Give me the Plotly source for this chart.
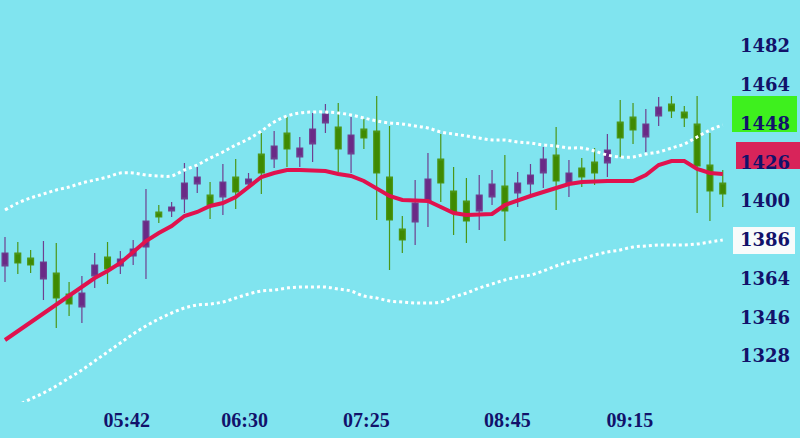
import numpy as np
import plotly.graph_objects as go

# ---- data ----
OPEN = [1379.5, 1374.5, 1373.5, 1375, 1357, 1354, 1359.5, 1373.5, 1371.5, 1376.5,
        1381.5, 1395.5, 1397.5, 1402.5, 1414.5, 1417.5, 1403.5, 1415, 1410, 1416.5,
        1419.5, 1433, 1431.5, 1432, 1441.5, 1449, 1431.5, 1438.5, 1437, 1419.5,
        1396, 1386, 1404.5, 1416.5, 1414.5, 1400, 1395.5, 1408.5, 1414, 1400.5,
        1414.5, 1418.5, 1426.5, 1415.5, 1419.5, 1417.5, 1419.5, 1431, 1437, 1441,
        1444, 1452.5, 1450.5, 1447, 1423, 1410.5, 1409]
CLOSE = [1373, 1379.5, 1377, 1366.5, 1369.5, 1359, 1352.5, 1368, 1377.5, 1373,
         1378, 1382.5, 1400, 1400.5, 1406.5, 1414, 1408.5, 1407.5, 1417.5, 1414,
         1429, 1426.5, 1439.5, 1427.5, 1434, 1444.5, 1442.5, 1429, 1441.5, 1440.5,
         1417.5, 1391.5, 1395, 1405.5, 1426.5, 1410.5, 1405.5, 1400.5, 1407.5, 1413,
         1409.5, 1414, 1419.5, 1428.5, 1414.5, 1422, 1425, 1424.5, 1445, 1447.5,
         1437.5, 1448, 1454, 1450, 1444, 1423.5, 1414.5]
HIGH = [1387.5, 1385, 1381, 1385.5, 1384.5, 1365, 1368, 1379.5, 1385, 1380.5,
        1386, 1411.5, 1403.5, 1405, 1424.5, 1422.5, 1415, 1424, 1426.5, 1419.5,
        1439.5, 1440.5, 1447.5, 1437.5, 1449.5, 1454, 1454.5, 1447.5, 1446.5, 1458,
        1443, 1398, 1416, 1429.5, 1439, 1422.5, 1417, 1418.5, 1421, 1428.5,
        1420, 1424, 1432.5, 1442.5, 1426, 1427, 1432, 1439, 1456, 1454.5,
        1451.5, 1457.5, 1458, 1453, 1458, 1439.5, 1421]
LOW = [1365, 1369, 1369.5, 1356, 1342, 1348, 1344.5, 1362, 1364, 1369,
       1373.5, 1366.5, 1394.5, 1397.5, 1399.5, 1409.5, 1396.5, 1398.5, 1401.5, 1413.5,
       1409, 1422, 1422.5, 1422.5, 1425, 1439.5, 1420, 1419.5, 1431.5, 1396,
       1371, 1379.5, 1383.5, 1392.5, 1405, 1388.5, 1384.5, 1391, 1403.5, 1385.5,
       1402.5, 1409, 1412, 1401, 1407.5, 1412.5, 1413.5, 1417.5, 1427.5, 1434,
       1430, 1443, 1447, 1442.5, 1399.5, 1395.5, 1402.5]
MA = [1336, 1340.5, 1345, 1349, 1354, 1358, 1362.5, 1367, 1370.5, 1374.5,
      1380, 1385.5, 1389.5, 1393, 1398, 1400, 1403, 1404.5, 1407.5, 1412.5,
      1417.5, 1419.5, 1421, 1421, 1420.5, 1420.5, 1419, 1418, 1415.5, 1411.5,
      1408, 1406, 1406, 1405.5, 1402.5, 1399.5, 1398.5, 1398.5, 1399, 1403.5,
      1406, 1408, 1410, 1412, 1414, 1415, 1415.5, 1415.5, 1415.5, 1415.5,
      1418.5, 1423.5, 1425.5, 1425.5, 1421.5, 1419.5, 1419]
UPPER = [1401, 1404.5, 1407, 1409, 1411, 1412.5, 1414.5, 1416, 1417.5, 1419.5,
         1419.5, 1418.5, 1418, 1418, 1421, 1423.5, 1427, 1430, 1433.5, 1436.5,
         1440.5, 1445, 1448, 1449.5, 1450, 1450, 1449.5, 1448.5, 1447, 1445.5,
         1444.5, 1444, 1443, 1442, 1440, 1439, 1438, 1437, 1436, 1436,
         1435, 1434.5, 1433.5, 1433, 1432, 1432, 1430.5, 1428.5, 1427.5, 1427.5,
         1429, 1430, 1432, 1434, 1437.5, 1441, 1443.5]
LOWER = [1301, 1303.5, 1306.5, 1309.5, 1313, 1317, 1321, 1325.5, 1330, 1334.5,
         1339, 1343, 1346.5, 1349.5, 1352, 1353.5, 1354, 1355, 1357, 1359,
         1360.5, 1361, 1362, 1362.5, 1362.5, 1362.5, 1361.5, 1360.5, 1358, 1357,
         1355.5, 1355, 1354.5, 1354.5, 1355, 1357.5, 1359.5, 1362, 1364, 1366,
         1367.5, 1368.5, 1370.5, 1373, 1375, 1376.5, 1378.5, 1380, 1381, 1382.5,
         1383, 1383.5, 1383.5, 1383.5, 1384, 1385, 1386]

X_TICK_TEXT = ["05:42", "06:30", "07:25", "08:45", "09:15"]
X_TICK_POS = [9.5, 18.7, 28.2, 39.2, 48.75]
Y_TICK_TEXT = ["1328", "1346", "1364", "1386", "1400", "1426", "1448", "1464", "1482"]
Y_TICK_VALS = list(np.linspace(1328, 1483, len(Y_TICK_TEXT)))

x = list(range(len(OPEN)))

BG = "#80e4ef"
NAVY = "#12126a"

fig = go.Figure()
fig.add_trace(go.Candlestick(
    x=x, open=OPEN, high=HIGH, low=LOW, close=CLOSE,
    increasing=dict(line=dict(color="#4c9618", width=1.2), fillcolor="#3f8a02"),
    decreasing=dict(line=dict(color="#6e4090", width=1.2), fillcolor="#6a2a86"),
    showlegend=False, hoverinfo="skip",
))
for band in (UPPER, LOWER):
    fig.add_trace(go.Scatter(
        x=x, y=band, mode="lines",
        line=dict(color="white", width=3, dash="3px,3px", shape="spline"),
        showlegend=False, hoverinfo="skip",
    ))
fig.add_trace(go.Scatter(
    x=x, y=MA, mode="lines",
    line=dict(color="#e0124e", width=4),
    showlegend=False, hoverinfo="skip",
))

# highlighted value boxes behind the right-hand labels
PLOT_W = 733.0
boxes = [
    (732, 797, 1440, 1458, "#3ef01e"),
    (736, 800, 1421.5, 1435, "#d8245a"),
    (733, 795, 1379, 1392.5, "#f8fbfb"),
]
for x0, x1, y0, y1, col in boxes:
    fig.add_shape(type="rect", xref="paper", yref="y",
                  x0=x0 / PLOT_W, x1=x1 / PLOT_W, y0=y0, y1=y1,
                  fillcolor=col, line=dict(width=0), layer="below")

fig.update_layout(
    width=800, height=438,
    margin=dict(l=0, r=67, t=0, b=36),
    paper_bgcolor=BG, plot_bgcolor=BG,
    xaxis=dict(range=[-0.39, 56.8], showgrid=False, zeroline=False, showline=False,
               ticks="", tickmode="array", tickvals=X_TICK_POS, ticktext=X_TICK_TEXT,
               ticklabelstandoff=4,
               tickfont=dict(family="Liberation Serif", size=20, color=NAVY, weight="bold"),
               rangeslider=dict(visible=False), fixedrange=True),
    yaxis=dict(range=[1305, 1506], side="right", showgrid=False, zeroline=False,
               showline=False, ticks="", tickmode="array", tickvals=Y_TICK_VALS,
               ticktext=Y_TICK_TEXT, ticklabelstandoff=6,
               tickfont=dict(family="DejaVu Serif", size=18, color=NAVY, weight="bold"),
               fixedrange=True),
    boxgap=0.35,
)

fig.write_html(
    "out.html",
    config={"displayModeBar": False},
    post_script="document.body.style.margin='0';document.body.style.background='%s';" % BG,
)
